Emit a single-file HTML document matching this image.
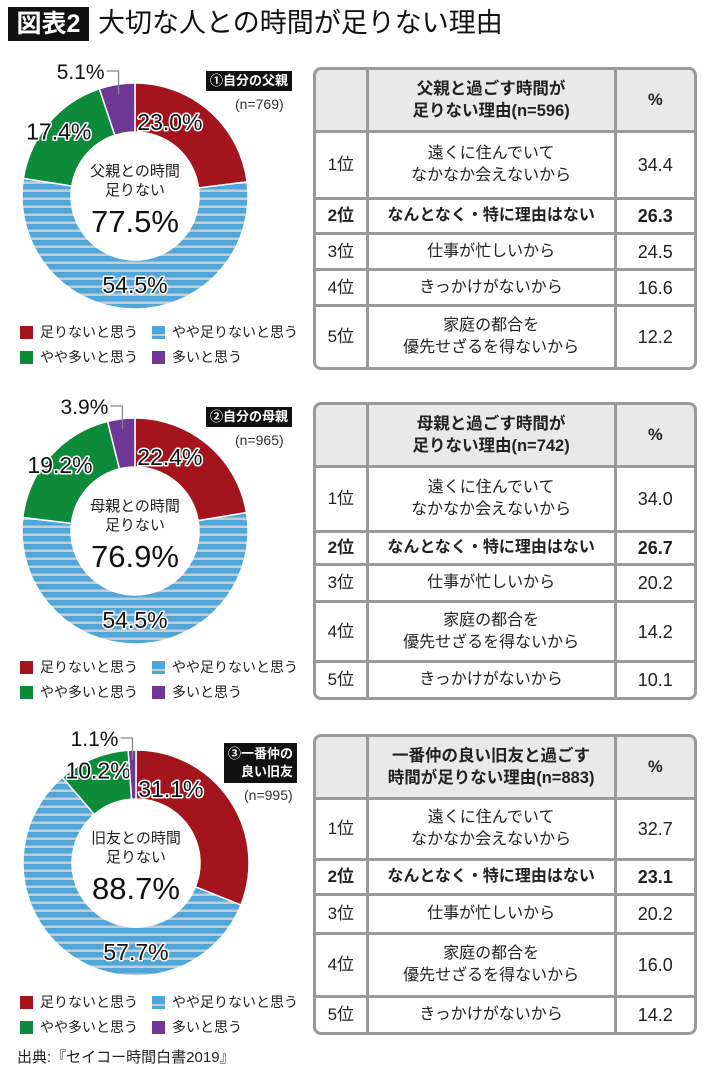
<!DOCTYPE html>
<html><head><meta charset="utf-8">
<style>
*{box-sizing:border-box;margin:0;padding:0}
body{width:710px;height:1075px;background:#fff;font-family:"Liberation Sans","Noto Sans CJK JP",sans-serif;color:#222;position:relative;overflow:hidden}
.abs{position:absolute}
#title-badge{left:8px;top:7px;width:81px;height:34px;background:#111;color:#fff;font-size:25px;font-weight:bold;line-height:34px;text-align:center}
#title-text{left:98px;top:4px;font-size:27px;line-height:38px;color:#111}
.badge{background:#111;color:#fff;font-weight:bold;font-size:13px;padding:2px 4px;line-height:16px}
.nlab{font-size:14px;color:#333}
.tbl{position:absolute;left:313px;width:384px;border:3px solid #9a9a9a;border-radius:8px;background:#9a9a9a;overflow:hidden}
.row{display:flex;border-top:3px solid #9a9a9a}
.row:first-child{border-top:none}
.c{display:flex;align-items:center;justify-content:center;text-align:center;background:#fff;line-height:22px}
.c1{width:50px;font-size:17px}
.c2{width:247px;margin-left:3px;font-size:16px}
.c3{width:78px;margin-left:3px;font-size:18px}
.hd .c{background:#e9e9e9;font-weight:bold;font-size:16.5px}
.b .c{font-weight:bold}
.leg{position:absolute;font-size:14px;display:flex;align-items:center}
.sw{width:13px;height:13px;margin-right:7px}
#source{left:17px;top:1046px;font-size:15px}
</style></head><body>
<div id="title-badge" class="abs">図表2</div>
<div id="title-text" class="abs">大切な人との時間が足りない理由</div>

<svg class="abs" style="left:0;top:0" width="310" height="1075" id="donuts">
<defs>
<pattern id="stripe" width="8" height="8" patternUnits="userSpaceOnUse">
<rect width="8" height="8" fill="#4fa6d8"/><rect y="5.5" width="8" height="2.5" fill="#c5ccd3"/>
</pattern>
</defs>
</svg>

<div class="abs badge" style="left:206px;top:71px">①自分の父親</div>
<div class="abs nlab" style="left:235px;top:96px">(n=769)</div>
<div class="abs badge" style="left:206px;top:407px">②自分の母親</div>
<div class="abs nlab" style="left:235px;top:432px">(n=965)</div>
<div class="abs badge" style="left:224px;top:743px;text-align:right;line-height:18px">③一番仲の<br>良い旧友</div>
<div class="abs nlab" style="left:244px;top:787px">(n=995)</div>

<div id="legends"></div>

<div class="tbl" style="top:67px">
<div class="row hd" style="height:60px"><div class="c c1"></div><div class="c c2">父親と過ごす時間が<br>足りない理由(n=596)</div><div class="c c3">%</div></div>
<div class="row" style="height:67px"><div class="c c1">1位</div><div class="c c2">遠くに住んでいて<br>なかなか会えないから</div><div class="c c3">34.4</div></div>
<div class="row b" style="height:35px"><div class="c c1">2位</div><div class="c c2">なんとなく・特に理由はない</div><div class="c c3">26.3</div></div>
<div class="row" style="height:36px"><div class="c c1">3位</div><div class="c c2">仕事が忙しいから</div><div class="c c3">24.5</div></div>
<div class="row" style="height:36px"><div class="c c1">4位</div><div class="c c2">きっかけがないから</div><div class="c c3">16.6</div></div>
<div class="row" style="height:63px"><div class="c c1">5位</div><div class="c c2">家庭の都合を<br>優先せざるを得ないから</div><div class="c c3">12.2</div></div>
</div>

<div class="tbl" style="top:402px">
<div class="row hd" style="height:60px"><div class="c c1"></div><div class="c c2">母親と過ごす時間が<br>足りない理由(n=742)</div><div class="c c3">%</div></div>
<div class="row" style="height:65px"><div class="c c1">1位</div><div class="c c2">遠くに住んでいて<br>なかなか会えないから</div><div class="c c3">34.0</div></div>
<div class="row b" style="height:33px"><div class="c c1">2位</div><div class="c c2">なんとなく・特に理由はない</div><div class="c c3">26.7</div></div>
<div class="row" style="height:37px"><div class="c c1">3位</div><div class="c c2">仕事が忙しいから</div><div class="c c3">20.2</div></div>
<div class="row" style="height:60px"><div class="c c1">4位</div><div class="c c2">家庭の都合を<br>優先せざるを得ないから</div><div class="c c3">14.2</div></div>
<div class="row" style="height:37px"><div class="c c1">5位</div><div class="c c2">きっかけがないから</div><div class="c c3">10.1</div></div>
</div>

<div class="tbl" style="top:734px">
<div class="row hd" style="height:60px"><div class="c c1"></div><div class="c c2">一番仲の良い旧友と過ごす<br>時間が足りない理由(n=883)</div><div class="c c3">%</div></div>
<div class="row" style="height:61px"><div class="c c1">1位</div><div class="c c2">遠くに住んでいて<br>なかなか会えないから</div><div class="c c3">32.7</div></div>
<div class="row b" style="height:35px"><div class="c c1">2位</div><div class="c c2">なんとなく・特に理由はない</div><div class="c c3">23.1</div></div>
<div class="row" style="height:39px"><div class="c c1">3位</div><div class="c c2">仕事が忙しいから</div><div class="c c3">20.2</div></div>
<div class="row" style="height:63px"><div class="c c1">4位</div><div class="c c2">家庭の都合を<br>優先せざるを得ないから</div><div class="c c3">16.0</div></div>
<div class="row" style="height:37px"><div class="c c1">5位</div><div class="c c2">きっかけがないから</div><div class="c c3">14.2</div></div>
</div>

<div id="source" class="abs">出典:『セイコー時間白書2019』</div>

<script>
const categories = ["足りないと思う","やや足りないと思う","やや多いと思う","多いと思う"];
const fatherValues = [23.0, 54.5, 17.4, 5.1];
const motherValues = [22.4, 54.5, 19.2, 3.9];
const friendValues = [31.1, 57.7, 10.2, 1.1];
const centerLabels = ["父親との時間","母親との時間","旧友との時間"];
const centerTotals = ["77.5%","76.9%","88.7%"];

const fills = ["#a3141d","url(#stripe)","#0e8a3b","#6e3795"];
const panels = [
  {vals:fatherValues, cx:135, cy:196, leg:322},
  {vals:motherValues, cx:135, cy:531, leg:657},
  {vals:friendValues, cx:136, cy:863, leg:992}
];
const R = 113, r = 64;
const svg = document.getElementById('donuts');
const NS = "http://www.w3.org/2000/svg";
function pt(cx, cy, rad, frac){const a = frac*2*Math.PI; return [cx+rad*Math.sin(a), cy-rad*Math.cos(a)];}
function mk(tag, attrs){const e=document.createElementNS(NS,tag); for(const k in attrs) e.setAttribute(k,attrs[k]); svg.appendChild(e); return e;}

panels.forEach((p, pi) => {
  const total = p.vals.reduce((a,b)=>a+b,0);
  let acc = 0;
  p.vals.forEach((v, i) => {
    const f0 = acc/total, f1 = (acc+v)/total;
    const [x0,y0]=pt(p.cx,p.cy,R,f0),[x1,y1]=pt(p.cx,p.cy,R,f1);
    const [x2,y2]=pt(p.cx,p.cy,r,f1),[x3,y3]=pt(p.cx,p.cy,r,f0);
    const large = (f1-f0)>0.5?1:0;
    const path = mk('path',{d:`M${x0},${y0}A${R},${R} 0 ${large} 1 ${x1},${y1}L${x2},${y2}A${r},${r} 0 ${large} 0 ${x3},${y3}Z`, fill:fills[i], stroke:'#fff','stroke-width':1.5});
    
    
    const mid = (f0+f1)/2;
    const txt = v.toFixed(1)+'%';
    if (i === 3) {
      const [tx,ty] = pt(p.cx,p.cy,R-10,mid);
      const topY = p.cy - R - 12;
      const ln = mk('polyline',{points:`${tx},${ty} ${tx},${topY} ${tx-12},${topY}`, fill:'none', stroke:'#888','stroke-width':1.3});
      
      
      const t = mk('text',{x:tx-14,y:topY+8,'text-anchor':'end','font-size':21,fill:'#111'});
      t.textContent = txt;
      
      
    } else {
      let lx, ly;
      if (i===0) { const q = pt(p.cx,p.cy,82,0.07); lx=q[0]; ly=q[1]+8; }
      else if (i===1) { lx = p.cx; ly = p.cy + 97; }
      else { const q = pt(p.cx,p.cy,100,mid); lx=q[0]; ly=q[1]+8; }
      const t = mk('text',{x:lx,y:ly,'text-anchor':'middle','font-size':23,fill:'#111',stroke:'#fff','stroke-width':3,'paint-order':'stroke','stroke-linejoin':'round'});
      t.textContent = txt;
      
      
    }
    acc += v;
  });
  const c1 = mk('text',{x:p.cx,y:p.cy-20,'text-anchor':'middle','font-size':15,fill:'#222'});
  c1.textContent = centerLabels[pi];
  
  
  const c2 = mk('text',{x:p.cx,y:p.cy-1,'text-anchor':'middle','font-size':15,fill:'#222'});
  c2.textContent = '足りない';
  
  
  const c3 = mk('text',{x:p.cx,y:p.cy+36,'text-anchor':'middle','font-size':31,fill:'#111'});
  c3.textContent = centerTotals[pi];
  
  

  const legPos = [[20,0],[152,0],[20,25],[152,25]];
  const swFill = ["#a3141d","linear-gradient(#4fa6d8 0 60%,#c5ccd3 60% 78%,#4fa6d8 78%)","#0e8a3b","#6e3795"];
  categories.forEach((c, i) => {
    const d = document.createElement('div');
    d.className = 'leg';
    d.style.left = legPos[i][0]+'px';
    d.style.top = (p.leg+legPos[i][1])+'px';
    d.innerHTML = `<span class="sw" style="background:${swFill[i]}"></span>${c}`;
    
    
    document.getElementById('legends').appendChild(d);
  });
});
</script>
</body></html>
